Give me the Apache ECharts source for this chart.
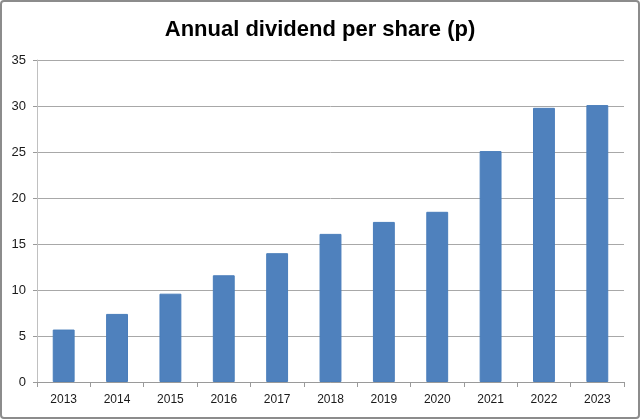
<!DOCTYPE html>
<html>
<head>
<meta charset="utf-8">
<script src="https://cdn.jsdelivr.net/npm/echarts@6/dist/echarts.min.js"></script>
<style>
html,body{margin:0;padding:0;background:#fff;}
#wrap{position:absolute;left:0;top:0;width:640px;height:419px;box-sizing:border-box;border:2px solid #8c8c8c;border-radius:4px;}
#chart{position:absolute;left:-2px;top:-2px;width:640px;height:419px;}
</style>
</head>
<body>
<div id="wrap"><div id="chart"></div></div>
<script>
const categories = ['2013','2014','2015','2016','2017','2018','2019','2020','2021','2022','2023'];
const dividends = [5.7, 7.4, 9.6, 11.6, 14.0, 16.1, 17.4, 18.5, 25.1, 29.8, 30.1];
const titleText = 'Annual dividend per share (p)';

const chart = echarts.init(document.getElementById('chart'), null, {renderer:'canvas'});
chart.setOption({
  animation:false,
  title:{text:titleText,left:'center',top:14,textStyle:{fontFamily:'Liberation Sans',fontWeight:'bold',fontSize:22,color:'#000'}},
  grid:{left:37,right:16,top:60,bottom:37},
  xAxis:{type:'category',data:categories,
    axisLine:{lineStyle:{color:'#9a9a9a',width:1}},
    axisTick:{show:true,length:5,alignWithLabel:false,lineStyle:{color:'#9a9a9a'}},
    axisLabel:{color:'#1a1a1a',fontSize:12,fontFamily:'Liberation Sans',margin:12}},
  yAxis:{type:'value',min:0,max:35,interval:5,
    axisLine:{show:true,lineStyle:{color:'#c0c0c0',width:1}},
    axisTick:{show:true,length:4,lineStyle:{color:'#9a9a9a'}},
    splitLine:{lineStyle:{color:'#a8a8a8',width:1}},
    axisLabel:{color:'#1a1a1a',fontSize:13,fontFamily:'Liberation Sans',margin:11}},
  series:[{type:'bar',data:dividends,barWidth:'41%',
    itemStyle:{color:'#4f81bd',borderColor:'#4a7ebb',borderWidth:1}}]
});
</script>
</body>
</html>
